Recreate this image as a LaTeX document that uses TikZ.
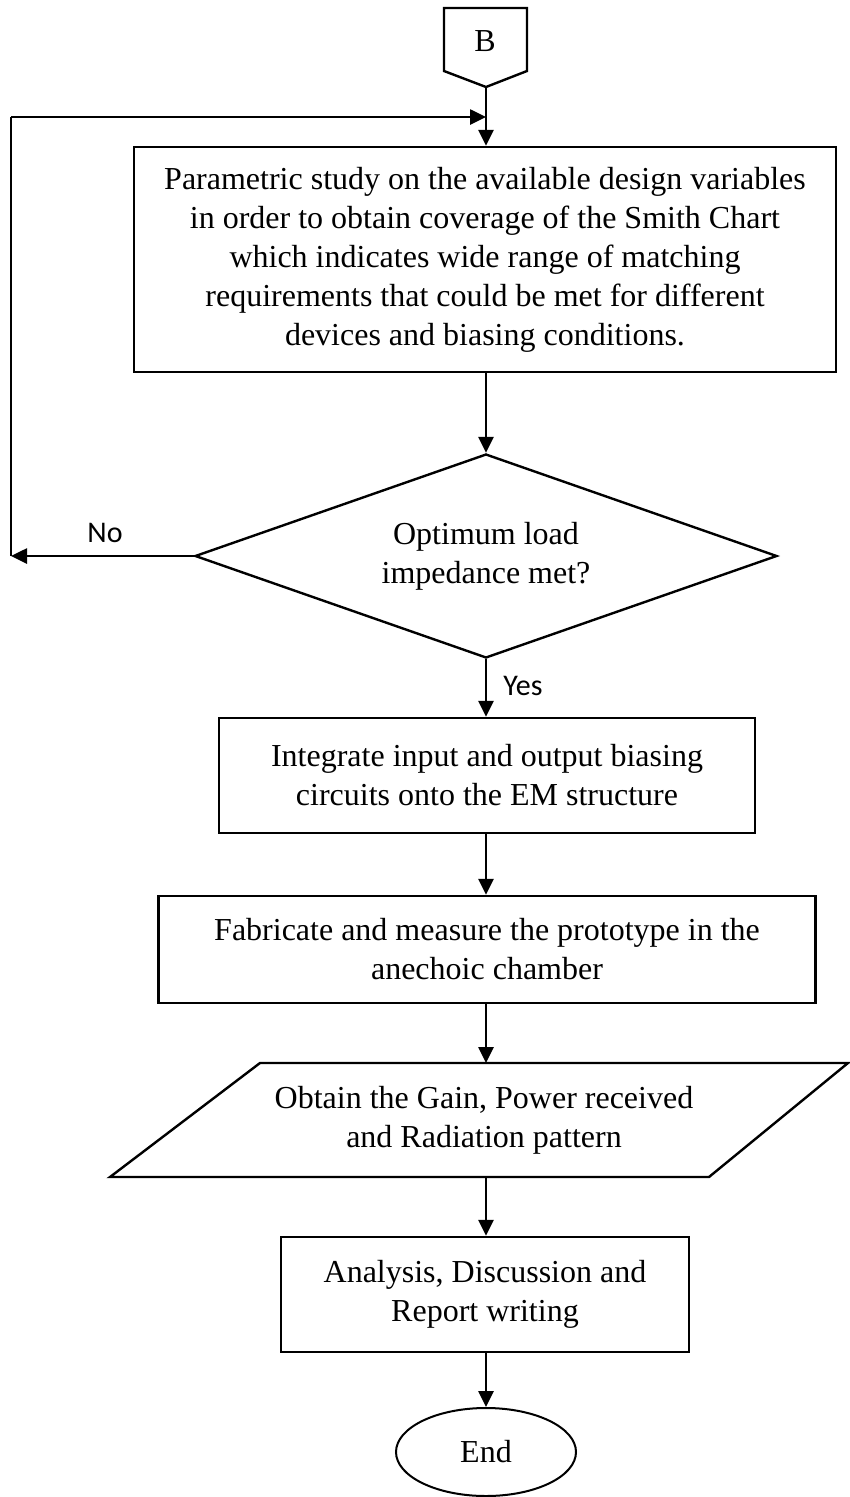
\documentclass[tikz,border=0pt]{standalone}
\usepackage{fontspec}
\setmainfont{Liberation Serif}
\newfontfamily\labelfont{Carlito}
\usetikzlibrary{shapes.geometric,arrows.meta}

\begin{document}
\begin{tikzpicture}[x=1pt,y=-1pt,
  every node/.style={font=\fontsize{32}{39}\selectfont, inner sep=0pt},
  line/.style={line width=2.6pt},
  flow/.style={line width=2.6pt, -{Triangle[length=16pt,width=15pt]}},
  procbox/.style={draw, line width=2.4pt, rectangle, align=center},
  decision/.style={draw, line width=2.4pt, diamond, align=center},
  terminal/.style={draw, line width=2pt, ellipse, align=center},
  tag/.style={font=\labelfont\fontsize{30}{34}\selectfont}
]
\useasboundingbox (0,0) rectangle (849,1497);

% off-page connector B
\draw[line width=2.4pt] (444,8) -- (527,8) -- (527,71) -- (486,87) -- (444,71) -- cycle;
\node (B) at (485,41) {B};
\coordinate (Btip) at (486,87);

% parametric study
\node[procbox, minimum width=702pt, minimum height=225pt] (study) at (485,259.5)
  {Parametric study on the available design variables\\
   in order to obtain coverage of the Smith Chart\\
   which indicates wide range of matching\\
   requirements that could be met for different\\
   devices and biasing conditions.};

% decision
\node[decision, minimum width=582pt, minimum height=204pt, shape aspect=2.85] (check) at (486,556)
  {Optimum load\\ impedance met?};

% integration
\node[procbox, minimum width=536pt, minimum height=115pt] (integ) at (487,775.5)
  {Integrate input and output biasing\\ circuits onto the EM structure};

% fabrication
\node[procbox, minimum width=657pt, minimum height=107pt] (fab) at (487,949.5)
  {Fabricate and measure the prototype in the\\ anechoic chamber};

% results (parallelogram)
\draw[line width=2.4pt] (260,1063) -- (848,1063) -- (709,1177) -- (110,1177) -- cycle;
\node[align=center] (results) at (484,1120) {Obtain the Gain, Power received\\ and Radiation pattern};
\coordinate (resN) at (486,1063);
\coordinate (resS) at (486,1177);

% report
\node[procbox, minimum width=408pt, minimum height=115pt] (report) at (485,1294.5)
  {Analysis, Discussion and\\ Report writing};

% end
\node[terminal, minimum width=180pt, minimum height=88pt] (end) at (486,1452) {End};

% feedback loop
\coordinate (loopTop) at (486,117);
\coordinate (loopCorner) at (11,117);
\coordinate (loopBottom) at (11,556);

% connectors along the main column
\draw[flow] (Btip) -- (study.north -| Btip);
\draw[flow] (study.south -| Btip) -- (check.north -| Btip);
\draw[flow] (check.west) -- (loopBottom);
\draw[line] (loopBottom) -- (loopCorner);
\draw[flow] (loopCorner) -- (loopTop);
\draw[flow] (check.south -| Btip) -- (integ.north -| Btip);
\draw[flow] (integ.south -| Btip) -- (fab.north -| Btip);
\draw[flow] (fab.south -| Btip) -- (resN);
\draw[flow] (resS) -- (report.north -| resS);
\draw[flow] (report.south -| resS) -- (end.north);

% branch labels
\node[tag] (no) at (105,533) {No};
\node[tag] (yes) at (523,686) {Yes};
\end{tikzpicture}
\end{document}
